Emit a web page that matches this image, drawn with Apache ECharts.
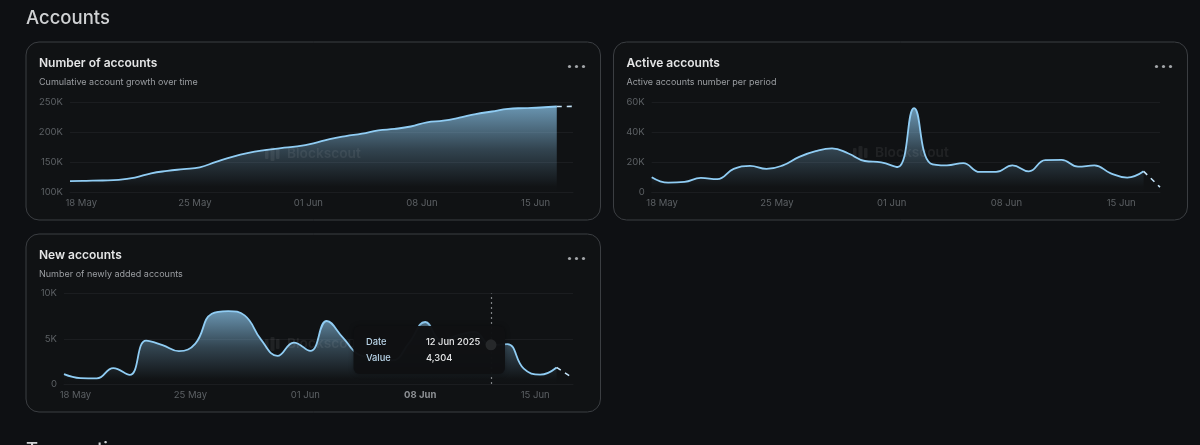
<!DOCTYPE html>
<html><head><meta charset="utf-8">
<style>html,body{margin:0;padding:0;background:#0e1013;overflow:hidden}#c{width:1200px;height:445px}</style>
<script src="https://cdn.jsdelivr.net/npm/echarts@6/dist/echarts.min.js"></script>
</head><body><div id="c"></div>
<script>
const dates = ['17 May','18 May','19 May','20 May','21 May','22 May','23 May','24 May','25 May','26 May','27 May','28 May','29 May','30 May','31 May','01 Jun','02 Jun','03 Jun','04 Jun','05 Jun','06 Jun','07 Jun','08 Jun','09 Jun','10 Jun','11 Jun','12 Jun','13 Jun','14 Jun','15 Jun','16 Jun','17 Jun'];
const tickLabels = ['18 May','25 May','01 Jun','08 Jun','15 Jun'];
const numberOfAccounts = [119000,119500,120000,121000,124800,132000,136000,139000,142000,151000,159500,166000,170500,174000,177000,182000,189000,194000,198000,203500,206000,210000,217000,219700,224700,230700,235000,239500,240700,241700,243300,243500];
const activeAccounts = [10200,6600,7100,9700,8900,15700,17700,15700,18100,23800,27600,29400,26000,21000,20100,17000,56200,19400,18100,19600,13700,13700,18100,14100,21600,21700,17200,18100,12800,9900,14100,3600];
const newAccounts = [1100,660,620,1760,1000,4800,4300,3630,4470,7770,8060,7580,4900,3100,4580,3660,6960,5100,3200,2900,2600,4500,6850,4800,5400,5750,4304,4400,1700,1030,1830,660];
const yTicks1 = {min:100000,max:250000,interval:50000};
const yTicks2 = {min:0,max:60000,interval:20000};
const yTicks3 = {min:0,max:10000,interval:5000};
const cardTitles = ['Number of accounts','Active accounts','New accounts'];
const cardSubtitles = ['Cumulative account growth over time','Active accounts number per period','Number of newly added accounts'];

const LINE='#90cdf4', TICK='#5c6064', GRIDC='#1b1d20', FONT='Inter';
const panels=[
 {x:26,y:42,w:574.5,h:178,left:70,right:1200-573,top:102.5,height:90,data:numberOfAccounts,yt:yTicks1,shift:10,wm:[265,154]},
 {x:613.5,y:42,w:574,h:178,left:651.7,right:1200-1160,top:102.5,height:90,data:activeAccounts,yt:yTicks2,shift:12,wm:[853,153]},
 {x:26,y:234,w:574.5,h:178,left:64,right:1200-573,top:293.5,height:90.5,data:newAccounts,yt:yTicks3,shift:10,wm:[265,344],bold:'08 Jun'}
];
const fmtY=v=>v===0?'0':(v/1000)+'K';
const grid=[],xAxis=[],yAxis=[],series=[],title=[],gfx=[];
panels.forEach((p,i)=>{
  gfx.push({type:'rect',z:0,shape:{x:p.x,y:p.y,width:p.w,height:p.h,r:13},style:{fill:'#101214',stroke:'#3b3e42',lineWidth:1}});
  title.push({text:cardTitles[i],subtext:cardSubtitles[i],left:p.x+13,top:p.y+14,padding:0,itemGap:5,
    textStyle:{color:'#e4e5e6',fontFamily:FONT,fontSize:12,fontWeight:600,lineHeight:15},
    subtextStyle:{color:'#9b9ea2',fontFamily:FONT,fontSize:9,lineHeight:12}});
  [-7,0,7].forEach(d=>gfx.push({type:'circle',z:6,shape:{cx:p.x+p.w-24+d,cy:p.y+24.5,r:1.6},style:{fill:'#a3a6a9'}}));
  const [wx,wy]=p.wm, wc='rgba(255,255,255,0.07)';
  [[0,2,3.5,10],[5.5,0,4,14],[11,2,3.5,10]].forEach(b=>gfx.push({type:'rect',z:5,shape:{x:wx+b[0],y:wy-7+b[1],width:b[2],height:b[3],r:1},style:{fill:wc}}));
  gfx.push({type:'text',z:5,x:wx+22,y:wy,style:{text:'Blockscout',fill:wc,font:'600 13.7px Inter',verticalAlign:'middle',textAlign:'left'}});

  grid.push({left:p.left,right:p.right,top:p.top,height:p.height});
  xAxis.push({type:'category',gridIndex:i,data:dates,boundaryGap:false,
    axisLine:{show:true,lineStyle:{color:GRIDC}},axisTick:{show:false},splitLine:{show:false},
    axisLabel:{color:TICK,fontFamily:FONT,fontSize:9.5,margin:6,padding:[0,p.shift,0,0],
      interval:(idx,val)=>tickLabels.includes(val),
      formatter:v=>v===p.bold?'{b|'+v+'}':v,rich:{b:{color:'#8d9094',fontFamily:FONT,fontSize:9.5,fontWeight:700}}}});
  yAxis.push({type:'value',gridIndex:i,min:p.yt.min,max:p.yt.max,interval:p.yt.interval,
    axisLine:{show:false},axisTick:{show:false},splitLine:{lineStyle:{color:GRIDC}},
    axisLabel:{color:TICK,fontFamily:FONT,fontSize:9.5,margin:7,padding:[2,0,0,0],formatter:fmtY}});
  const last=p.data.length-1;
  const solid=p.data.map((v,k)=>k<last?v:null);
  const dash=p.data.map((v,k)=>k>=last-1?v:null);
  series.push({type:'line',xAxisIndex:i,yAxisIndex:i,data:solid,smooth:0.45,symbol:'none',silent:true,z:3,
    lineStyle:{color:LINE,width:1.8},
    areaStyle:{origin:'start',color:{type:'linear',x:0,y:0,x2:0,y2:1,colorStops:[
      {offset:0,color:'rgba(144,205,244,1)'},
      {offset:0.5,color:'rgba(144,205,244,0.38)'},
      {offset:0.93,color:'rgba(144,205,244,0.01)'},
      {offset:1,color:'rgba(144,205,244,0)'}]}},
    ...(i===2?{markLine:{silent:true,symbol:'none',label:{show:false},animation:false,
      lineStyle:{color:'#7f8285',type:[2,3],width:1.2},data:[{xAxis:'12 Jun'}]}}:{})});
  series.push({type:'line',xAxisIndex:i,yAxisIndex:i,data:dash,symbol:'none',silent:true,z:3,
    lineStyle:{color:'#c4e3f8',width:1.6,type:[5,5]}});
});
// page headings
gfx.push({type:'text',z:6,x:26,y:18.5,style:{text:'Accounts',fill:'#cfd1d3',font:'500 18.5px Inter',verticalAlign:'middle'}});
gfx.push({type:'text',z:6,x:26,y:450,style:{text:'Transactions',fill:'#cfd1d3',font:'500 18.5px Inter',verticalAlign:'middle'}});
// tooltip
gfx.push({type:'rect',z:20,shape:{x:353.5,y:326,width:151.5,height:48,r:6},style:{fill:'rgba(15,17,19,0.97)',shadowBlur:5,shadowColor:'rgba(0,0,0,0.35)'}});
[['Date',366,342,'#b9d4e8'],['12 Jun 2025',426,342,'#e6e7e8'],['Value',366,358,'#b9d4e8'],['4,304',426,358,'#e6e7e8']].forEach(t=>
  gfx.push({type:'text',z:21,x:t[1],y:t[2],style:{text:t[0],fill:t[3],font:'500 9.3px Inter',verticalAlign:'middle'}}));
gfx.push({type:'circle',z:22,shape:{cx:491,cy:344.8,r:5.5},style:{fill:'#26282a'}});

const chart=echarts.init(document.getElementById('c'),null,{renderer:'canvas'});
chart.setOption({animation:false,backgroundColor:'#0e1013',title,grid,xAxis,yAxis,series,graphic:{elements:gfx},tooltip:{show:false}});
</script></body></html>
